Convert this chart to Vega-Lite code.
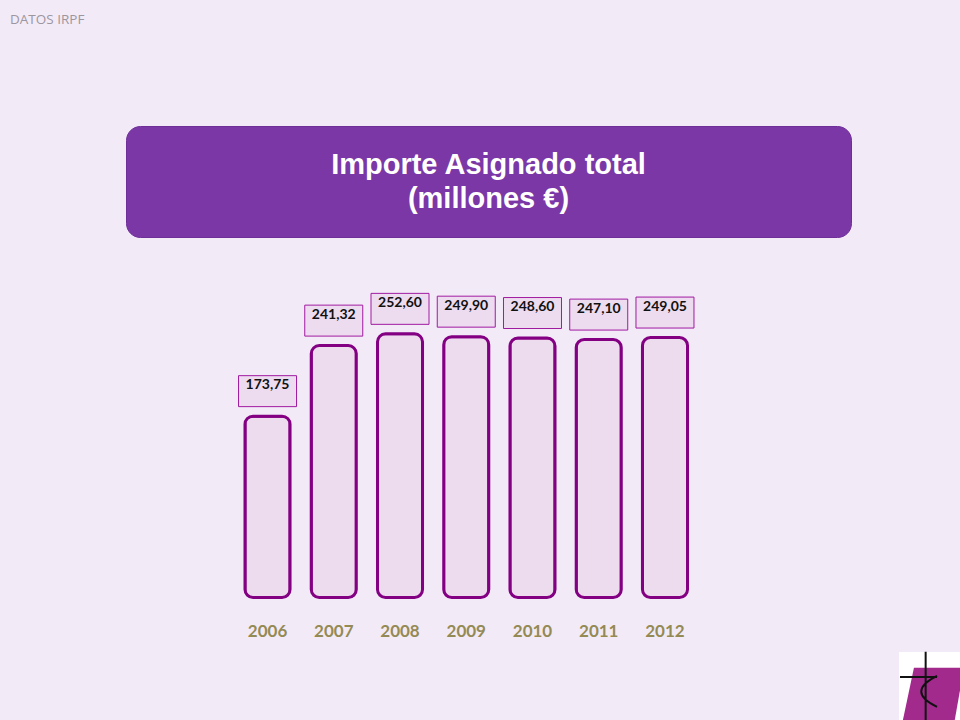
{
  "$schema": "https://vega.github.io/schema/vega-lite/v6.json",
  "background": "#f3eaf8",
  "padding": {"left": 10, "top": 12, "right": 0, "bottom": 0},
  "title": {
    "text": "DATOS IRPF",
    "anchor": "start",
    "offset": 99.5,
    "font": "Open Sans",
    "fontSize": 13.5,
    "fontWeight": "normal",
    "color": "#9c969e",
    "baseline": "top"
  },
  "config": {"view": {"stroke": null}},
  "spacing": 7,
  "vconcat": [
    {
      "spacing": 25.5,
      "vconcat": [
        {
          "spacing": 10,
          "hconcat": [
            {
              "width": 105,
              "height": 1,
              "data": {"values": []},
              "mark": "point"
            },
            {
              "width": 725,
              "height": 111,
              "view": {"fill": "#7b37a6", "cornerRadius": 14, "stroke": "#6e2f98"},
              "data": {"values": [{"titulo": "Importe Asignado total\n(millones €)"}]},
              "mark": {
                "type": "text",
                "lineBreak": "\n",
                "font": "Liberation Sans",
                "fontSize": 29,
                "fontWeight": "bold",
                "color": "#ffffff",
                "lineHeight": 34,
                "baseline": "middle",
                "align": "center",
                "dy": -17
              },
              "encoding": {"text": {"field": "titulo"}}
            }
          ]
        },
        {
          "width": 840,
          "height": 334,
          "data": {
            "values": [
              {"anio": "2006", "importe": 173.75, "etiqueta": "173,75"},
              {"anio": "2007", "importe": 241.32, "etiqueta": "241,32"},
              {"anio": "2008", "importe": 252.60, "etiqueta": "252,60"},
              {"anio": "2009", "importe": 249.90, "etiqueta": "249,90"},
              {"anio": "2010", "importe": 248.60, "etiqueta": "248,60"},
              {"anio": "2011", "importe": 247.10, "etiqueta": "247,10"},
              {"anio": "2012", "importe": 249.05, "etiqueta": "249,05"}
            ]
          },
          "encoding": {
            "x": {
              "field": "anio",
              "type": "nominal",
              "title": null,
              "scale": {"range": [224.4, 688.1], "paddingInner": 0.32, "paddingOuter": 0.16},
              "axis": {
                "domain": false,
                "ticks": false,
                "labelAngle": 0,
                "labelPadding": 26,
                "labelFont": "Lato",
                "labelFontSize": 17,
                "labelFontWeight": "bold",
                "labelColor": "#948a54"
              }
            },
            "y": {
              "field": "importe",
              "type": "quantitative",
              "scale": {"domain": [0, 320]},
              "axis": null
            }
          },
          "layer": [
            {
              "mark": {
                "type": "bar",
                "fill": "#eddbee",
                "stroke": "#830083",
                "strokeWidth": 3,
                "cornerRadius": 8
              }
            },
            {
              "mark": {
                "type": "point",
                "shape": "M-1,-0.534H1V0.534H-1Z",
                "size": 3364,
                "filled": false,
                "fill": "#eddcef",
                "fillOpacity": 1,
                "stroke": "#a01aa0",
                "strokeWidth": 1,
                "opacity": 1,
                "yOffset": -25
              }
            },
            {
              "mark": {
                "type": "text",
                "font": "Lato",
                "fontSize": 14,
                "fontWeight": "bold",
                "color": "#111111",
                "baseline": "middle",
                "yOffset": -31
              },
              "encoding": {"text": {"field": "etiqueta"}}
            }
          ]
        }
      ]
    },
    {
      "spacing": 10,
      "hconcat": [
        {
          "width": 875,
          "height": 1,
          "data": {"values": []},
          "mark": "point"
        },
        {
          "width": 65,
          "height": 72.5,
          "view": {"fill": "#ffffff", "stroke": null},
          "data": {"values": [{"logo": "CEE"}]},
          "layer": [
            {
              "mark": {
                "type": "point",
                "shape": "M-0.54,-0.63L1,-0.63L0.69,1.12L-0.91,1.12Z",
                "size": 4225,
                "filled": true,
                "fill": "#a12a8c",
                "stroke": null,
                "opacity": 1
              }
            },
            {
              "mark": {
                "type": "point",
                "shape": "M-0.18,-1.12L-0.18,1.12M-0.97,-0.35L0.17,-0.35M0.17,-0.38Q-0.8,0.1 0.17,0.57",
                "size": 4225,
                "filled": false,
                "stroke": "#111111",
                "strokeWidth": 2,
                "opacity": 1
              }
            }
          ]
        }
      ]
    }
  ]
}
